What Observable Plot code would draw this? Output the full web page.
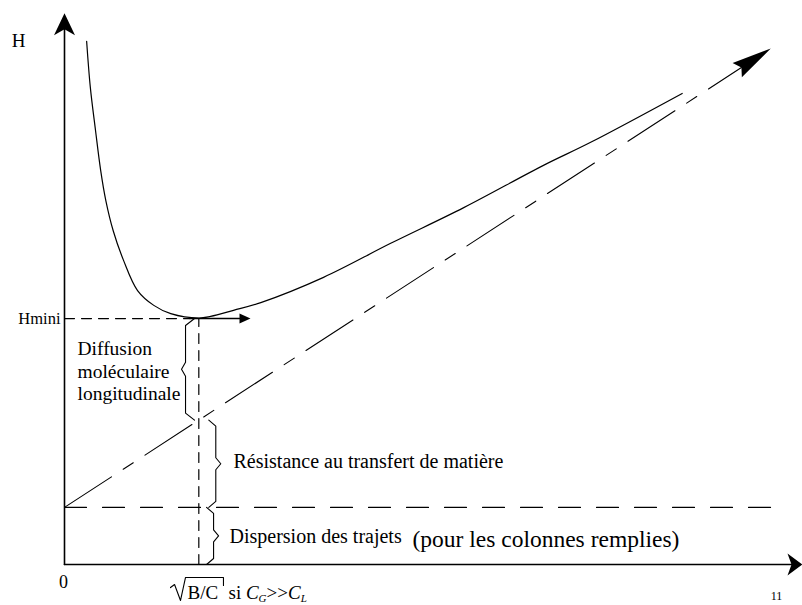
<!DOCTYPE html>
<html>
<head>
<meta charset="utf-8">
<script src="https://cdn.jsdelivr.net/npm/d3@7"></script>
<script src="https://cdn.jsdelivr.net/npm/@observablehq/plot@0.6"></script>
<style>
  html, body { margin: 0; padding: 0; background: #fff; }
  svg { display: block; }
</style>
</head>
<body>
<div id="chart"></div>
<script>
// ---- Data (abstract units: u on x, H on y) ----
const curveU = [0.30, 0.35, 0.42, 0.49, 0.56, 0.66, 0.80, 0.99, 1.21, 1.44, 1.82, 1.98, 2.29, 2.66, 3.51, 4.42, 5.41, 6.49, 7.13, 8.37];
const curveH = [9.53, 8.69, 7.91, 7.18, 6.63, 6.08, 5.54, 4.99, 4.72, 4.57, 4.49, 4.52, 4.63, 4.77, 5.23, 5.85, 6.50, 7.27, 7.69, 8.58];
const termA = 1.04;            // dispersion des trajets (horizontal dashed)
const lineU = [0, 9.57];       // A + C·u straight line
const lineH = [1.04, 9.40];
const uOpt = 1.82;             // sqrt(B/C)
const Hmini = 4.48;
const hminiArrowEnd = 2.52;
const termAEnd = 9.70;
const lineAtOpt = 2.63;        // value of the straight line at uOpt

// ---- Layout ----
const W = 802, Hh = 605, mL = 64, mR = 0, mT = 15, mB = 41;
const xDom = [0, 10], yDom = [0, 10];
const kx = (W - mL - mR) / (xDom[1] - xDom[0]);
const ky = (Hh - mT - mB) / (yDom[1] - yDom[0]);

const curve = curveU.map((u, i) => ({u, h: curveH[i]}));

// arrow head polygon (size in px, placed in data space)
function head(id, tip, from, len, wid, notch) {
  let dx = (tip[0] - from[0]) * kx, dy = -(tip[1] - from[1]) * ky;
  const n = Math.hypot(dx, dy); dx /= n; dy /= n;
  const px = -dy, py = dx;
  const pts = [[0, 0],
    [-len * dx + wid / 2 * px, -len * dy + wid / 2 * py],
    [-(len - notch) * dx, -(len - notch) * dy],
    [-len * dx - wid / 2 * px, -len * dy - wid / 2 * py]];
  const poly = pts.map(([ox, oy]) => ({id, u: tip[0] + ox / kx, h: tip[1] - oy / ky}));
  return {poly, base: poly[2]};
}

const headY = head("y", [0, 10.04], [0, 0], 22, 21, 6);
const headX = head("x", [10, 0], [0, 0], 15, 22, 4);
const headL = head("l", [lineU[1], lineH[1]], [lineU[0], lineH[0]], 40, 17, 5);
const headM = head("m", [hminiArrowEnd, Hmini], [uOpt, Hmini], 11, 10, 0);
const heads = [...headY.poly, ...headX.poly, ...headL.poly, ...headM.poly];

// braces: spine position, span, direction (+1 "}", -1 "{"), end curl w, tip t, corner c (px)
const braces = [
  {id: "B", x: 1.64, top: Hmini, bot: lineAtOpt, dir: -1, w: 9, t: 4, c: 7},
  {id: "C", x: 2.05, top: lineAtOpt, bot: termA, dir: 1, w: 7, t: 5, c: 6},
  {id: "A", x: 2.02, top: termA, bot: 0, dir: 1, w: 7, t: 5, c: 6}
];
const bracePts = braces.flatMap(b => {
  const mid = (b.top + b.bot) / 2, d = b.dir;
  return [
    [b.x - d * b.w / kx, b.top],
    [b.x, b.top - b.c / ky],
    [b.x, mid + b.c / ky],
    [b.x + d * b.t / kx, mid],
    [b.x, mid - b.c / ky],
    [b.x, b.bot + b.c / ky],
    [b.x - d * b.w / kx, b.bot]
  ].map(([u, h]) => ({id: b.id, u, h}));
});

// radical sign for sqrt(B/C)
const radical = [[1.436, -0.42], [1.491, -0.365], [1.572, -0.655], [1.640, -0.236], [2.154, -0.236], [2.154, -0.382]]
  .map(([u, h]) => ({u, h}));

const serif = "'Liberation Serif', 'Times New Roman', serif";
const txt = (s, o) => Plot.text([s], {text: d => d, ...o});

const chart = Plot.plot({
  width: W, height: Hh,
  marginLeft: mL, marginRight: mR, marginTop: mT, marginBottom: mB,
  x: {domain: xDom, axis: null},
  y: {domain: yDom, axis: null},
  style: {fontFamily: serif, background: "white", overflow: "visible", color: "black"},
  marks: [
    // axes
    Plot.line([{u: 0, h: 0}, {u: 0, h: headY.base.h}], {x: "u", y: "h", stroke: "black", strokeWidth: 1.6}),
    Plot.line([{u: 0, h: 0}, {u: headX.base.u, h: 0}], {x: "u", y: "h", stroke: "black", strokeWidth: 1.6}),
    // A term (horizontal dashed)
    Plot.line([{u: 0, h: termA}, {u: termAEnd, h: termA}], {x: "u", y: "h", stroke: "black", strokeWidth: 1.2, strokeDasharray: "22,16"}),
    // straight line A + C u
    Plot.line([{u: lineU[0], h: lineH[0]}, {u: headL.base.u, h: headL.base.h}], {x: "u", y: "h", stroke: "black", strokeWidth: 1.1, strokeDasharray: "56,14,12,14"}),
    // Hmini dashed and vertical dashed
    Plot.line([{u: 0, h: Hmini}, {u: uOpt - 0.12, h: Hmini}], {x: "u", y: "h", stroke: "black", strokeWidth: 1.2, strokeDasharray: "10,7"}),
    Plot.line([{u: uOpt, h: 0}, {u: uOpt, h: Hmini}], {x: "u", y: "h", stroke: "black", strokeWidth: 1.2, strokeDasharray: "10,7"}),
    Plot.line([{u: uOpt - 0.12, h: Hmini}, {u: headM.base.u, h: Hmini}], {x: "u", y: "h", stroke: "black", strokeWidth: 1.5}),
    // Van Deemter curve
    Plot.line(curve, {x: "u", y: "h", stroke: "black", strokeWidth: 1.2, curve: "catmull-rom"}),
    // arrow heads
    Plot.line(heads, {x: "u", y: "h", z: "id", fill: "black", stroke: "none"}),
    // braces
    Plot.line(bracePts, {x: "u", y: "h", z: "id", stroke: "black", strokeWidth: 1.1}),
    // radical
    Plot.line(radical, {x: "u", y: "h", stroke: "black", strokeWidth: 1.1}),
    // texts
    txt("H", {x: -0.623, y: 9.545, textAnchor: "middle", lineAnchor: "middle", fontSize: 19}),
    txt("Hmini", {x: -0.054, y: Hmini, textAnchor: "end", lineAnchor: "middle", fontSize: 16.5}),
    txt("Diffusion\nmoléculaire\nlongitudinale", {x: 0.176, y: 2.99, textAnchor: "start", lineAnchor: "bottom", lineHeight: 1.16, fontSize: 19.5}),
    txt("Résistance au transfert de matière", {x: 2.29, y: 1.75, textAnchor: "start", lineAnchor: "bottom", fontSize: 20}),
    txt("Dispersion des trajets", {x: 2.236, y: 0.40, textAnchor: "start", lineAnchor: "bottom", fontSize: 20}),
    txt("(pour les colonnes remplies)", {x: 4.715, y: 0.31, textAnchor: "start", lineAnchor: "bottom", fontSize: 23.5}),
    txt("0", {x: -0.014, y: -0.419, textAnchor: "middle", lineAnchor: "bottom", fontSize: 18}),
    txt("B/C", {x: 1.667, y: -0.62, textAnchor: "start", lineAnchor: "bottom", fontSize: 19}),
    txt("si CG>>CL", {x: 2.222, y: -0.62, textAnchor: "start", lineAnchor: "bottom", fontSize: 19}),
    txt("11", {x: 9.648, y: -0.64, textAnchor: "middle", lineAnchor: "bottom", fontSize: 12})
  ]
});

// subscripts for C_G and C_L
d3.select(chart).selectAll("text").filter(function () { return this.textContent === "si CG>>CL"; })
  .each(function () {
    const t = d3.select(this);
    t.text(null);
    t.append("tspan").text("si ");
    t.append("tspan").attr("font-style", "italic").text("C");
    t.append("tspan").attr("font-style", "italic").attr("font-size", 11).attr("dy", 3).text("G");
    t.append("tspan").attr("dy", -3).text(">>");
    t.append("tspan").attr("font-style", "italic").text("C");
    t.append("tspan").attr("font-style", "italic").attr("font-size", 11).attr("dy", 3).text("L");
  });

document.getElementById("chart").appendChild(chart);
</script>
</body>
</html>
